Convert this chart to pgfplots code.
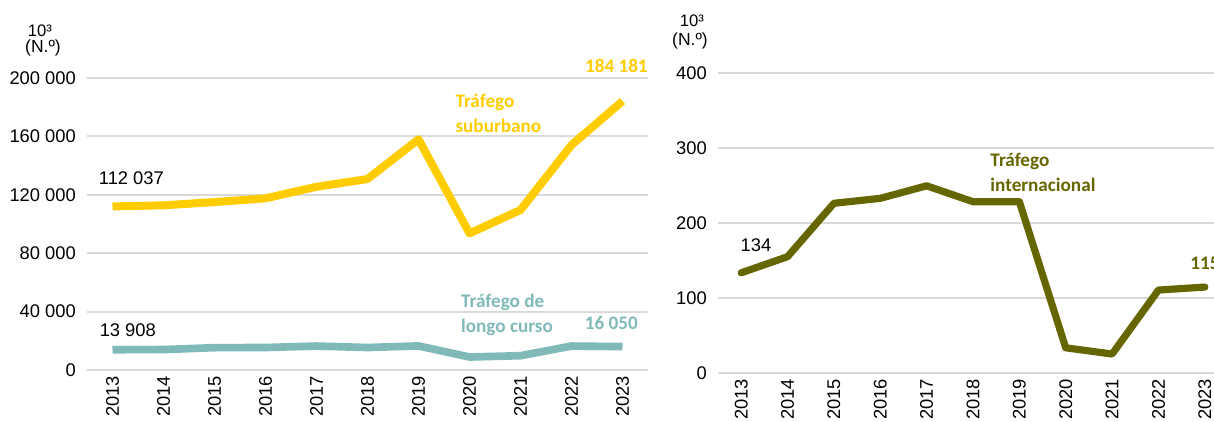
\documentclass[border=0pt]{standalone}
\usepackage{pgfplots}
\pgfplotsset{compat=1.18}
\usepackage{fontspec}
\setmainfont{Liberation Sans}
\newfontfamily\calibri{Carlito}
\definecolor{gold}{RGB}{255,204,0}
\definecolor{tealc}{RGB}{128,186,184}
\definecolor{olivec}{RGB}{102,102,0}
\definecolor{gridc}{RGB}{217,217,217}
\pgfplotsset{common/.style={
  scale only axis, clip=false,
  axis line style={draw=none}, major tick length=0pt,
  ymajorgrids, grid style={gridc,line width=1.1pt},
  xmin=2012.5, xmax=2023.5, ymin=0,
  xtick={2013,2014,2015,2016,2017,2018,2019,2020,2021,2022,2023},
  xticklabels={2013,2014,2015,2016,2017,2018,2019,2020,2021,2022,2023},
  tick label style={font=\fontsize{11}{13}\selectfont},
  x tick label style={rotate=90,anchor=east},
  y tick label style={xshift=-3.2pt},
  scaled y ticks=false,
}}
\begin{document}
\begin{tikzpicture}
\useasboundingbox (0,0) rectangle (728.4pt,252.6pt);
% left chart
\begin{axis}[common, at={(52.2pt,30.6pt)}, anchor=south west,
  width=336.6pt, height=175.2pt, ymax=200000,
  ytick={0,40000,80000,120000,160000,200000},
  yticklabels={0,40 000,80 000,120 000,160 000,200 000}]
\addplot[gold, line width=4.8pt, line join=round] coordinates {
(2013,112037) (2014,112800) (2015,115000) (2016,117600) (2017,125500)
(2018,130800) (2019,158000) (2020,93600) (2021,109600) (2022,154100) (2023,184181)};
\addplot[tealc, line width=4.6pt, line join=round] coordinates {
(2013,13908) (2014,14000) (2015,15300) (2016,15400) (2017,16400)
(2018,15400) (2019,16500) (2020,8900) (2021,9800) (2022,16400) (2023,16050)};
\node[font=\calibri\bfseries\fontsize{11.5}{15}\selectfont, text=gold] at (axis cs:2022.88,208000) {184 181};
\node[font=\calibri\bfseries\fontsize{11.5}{15}\selectfont, text=gold, anchor=north west, align=left, inner sep=0pt] at (axis cs:2019.72,189000) {Tráfego\\suburbano};
\node[font=\calibri\bfseries\fontsize{11.5}{15}\selectfont, text=tealc, anchor=north west, align=left, inner sep=0pt] at (axis cs:2019.83,52000) {Tráfego de\\longo curso};
\node[font=\calibri\bfseries\fontsize{11.5}{15}\selectfont, text=tealc] at (axis cs:2022.78,32200) {16 050};
\node[font=\fontsize{11}{13}\selectfont] at (axis cs:2013.37,131500) {112 037};
\node[font=\fontsize{11}{13}\selectfont] at (axis cs:2013.3,27400) {13 908};
\end{axis}
\node[font=\fontsize{10}{12}\selectfont, inner sep=0pt] at (24pt,234pt) {10³};
\node[font=\fontsize{10.5}{12}\selectfont, inner sep=0pt] at (25.8pt,224pt) {(N.º)};
% right chart
\begin{axis}[common, at={(430.8pt,28.62pt)}, anchor=south west,
  width=306pt, height=180pt, ymax=400,
  ytick={0,100,200,300,400},
  yticklabels={0,100,200,300,400}]
\addplot[olivec, line width=4.3pt, line join=round, line cap=round] coordinates {
(2013,134) (2014,155.5) (2015,226.7) (2016,233.3) (2017,250)
(2018,228.8) (2019,228.8) (2020,34) (2021,25.7) (2022,111) (2023,115)};
\node[font=\fontsize{11}{13}\selectfont] at (axis cs:2013.32,171) {134};
\node[font=\calibri\bfseries\fontsize{11.5}{15}\selectfont, text=olivec, anchor=north west, align=left, inner sep=0pt] at (axis cs:2018.37,294) {Tráfego\\internacional};
\node[font=\calibri\bfseries\fontsize{11.5}{15}\selectfont, text=olivec, anchor=west, inner sep=0pt] at (axis cs:2022.68,146) {115};
\end{axis}
\node[font=\fontsize{10}{12}\selectfont, inner sep=0pt] at (415.2pt,240pt) {10³};
\node[font=\fontsize{10.5}{12}\selectfont, inner sep=0pt] at (414pt,228pt) {(N.º)};
\end{tikzpicture}
\end{document}
